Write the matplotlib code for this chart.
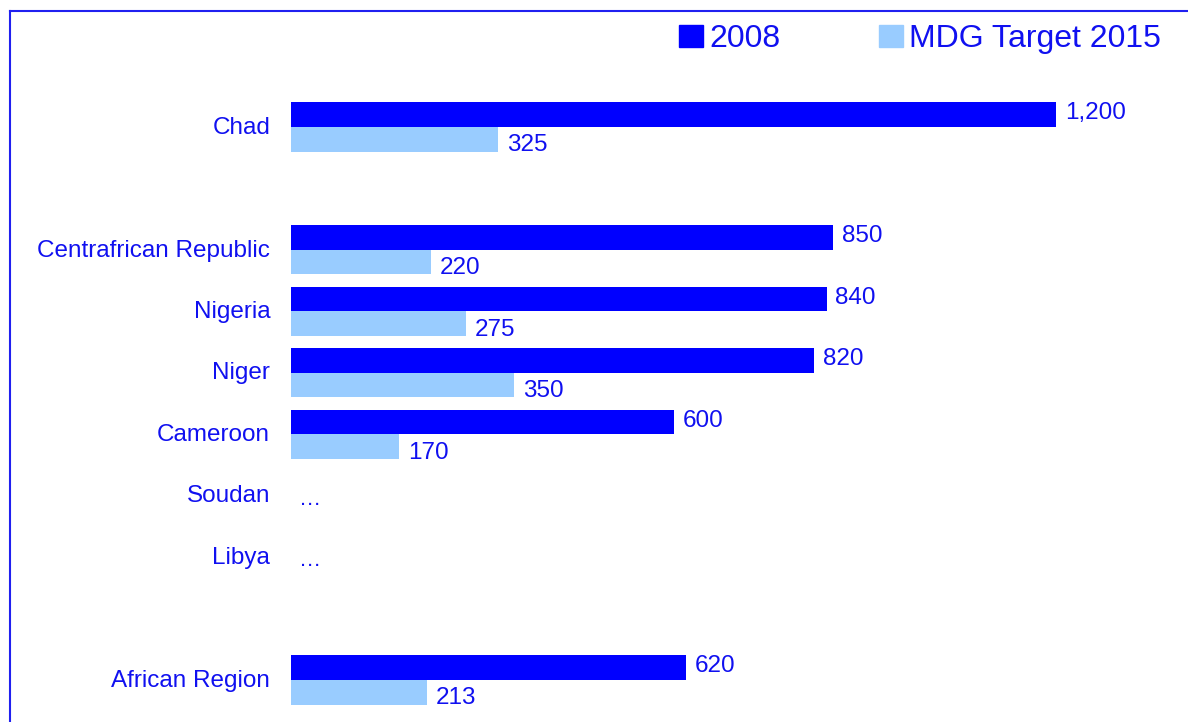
import numpy as np
import matplotlib.pyplot as plt
from matplotlib.lines import Line2D
from matplotlib.patches import Patch

plt.rcParams['font.family'] = ['Liberation Sans', 'DejaVu Sans']

# blank strings are spacer rows in the original chart
countries = ["Chad", "", "Centrafrican Republic", "Nigeria", "Niger",
             "Cameroon", "Soudan", "Libya", "", "African Region"]
mmr_2008 = [1200, None, 850, 840, 820, 600, None, None, None, 620]
mdg_2015 = [325, None, 220, 275, 350, 170, None, None, None, 213]
no_data = ["", "", "", "", "", "", "…", "…", "", ""]

dark = "#0000FF"
light = "#99CCFF"
txt = "#1010F0"

fig = plt.figure(figsize=(11.88, 7.22), dpi=100)
ax = fig.add_axes([291 / 1188, 0, 1 - 291 / 1188, 1])

y = np.arange(len(countries))
h = 0.4
fs = 17.5
for i, (a, b) in enumerate(zip(mmr_2008, mdg_2015)):
    if a is not None:
        ax.barh(y[i] - h / 2, a, height=h, color=dark)
        ax.text(a + 14, y[i] - h / 2 - 0.02, f"{a:,}", color=txt, fontsize=fs, va="center")
    if b is not None:
        ax.barh(y[i] + h / 2, b, height=h, color=light)
        ax.text(b + 14, y[i] + h / 2 + 0.1, f"{b:,}", color=txt, fontsize=fs, va="center")
    if no_data[i]:
        ax.text(12, y[i] + 0.06, no_data[i], color=txt, fontsize=16, va="center")

ax.set_xlim(0, (1188 - 291) / 0.6375)
ax.set_ylim(9.684, -2.067)
ax.set_yticks(y - 0.03)
ax.set_yticklabels(countries, color=txt, fontsize=fs)
ax.tick_params(axis="y", length=0, pad=15)
ax.set_xticks([])
for s in ax.spines.values():
    s.set_visible(False)

# legend
handles = [Patch(color=dark, label="2008"), Patch(color=light, label="MDG Target 2015")]
leg = fig.legend(handles=handles, loc="center", bbox_to_anchor=(920 / 1188, 1 - 39 / 722),
                 ncol=2, frameon=False, fontsize=23, handlelength=0.75, handleheight=0.7,
                 handletextpad=0.2, columnspacing=3.1)
for t in leg.get_texts():
    t.set_color(txt)

# outer frame, cut off at right and bottom
fig.add_artist(Line2D([10 / 1188, 10 / 1188], [0, 1 - 11 / 722], color="#2020F0", lw=1.5))
fig.add_artist(Line2D([10 / 1188, 1], [1 - 11 / 722, 1 - 11 / 722], color="#2020F0", lw=1.5))

fig.savefig("out.png", dpi=100)
